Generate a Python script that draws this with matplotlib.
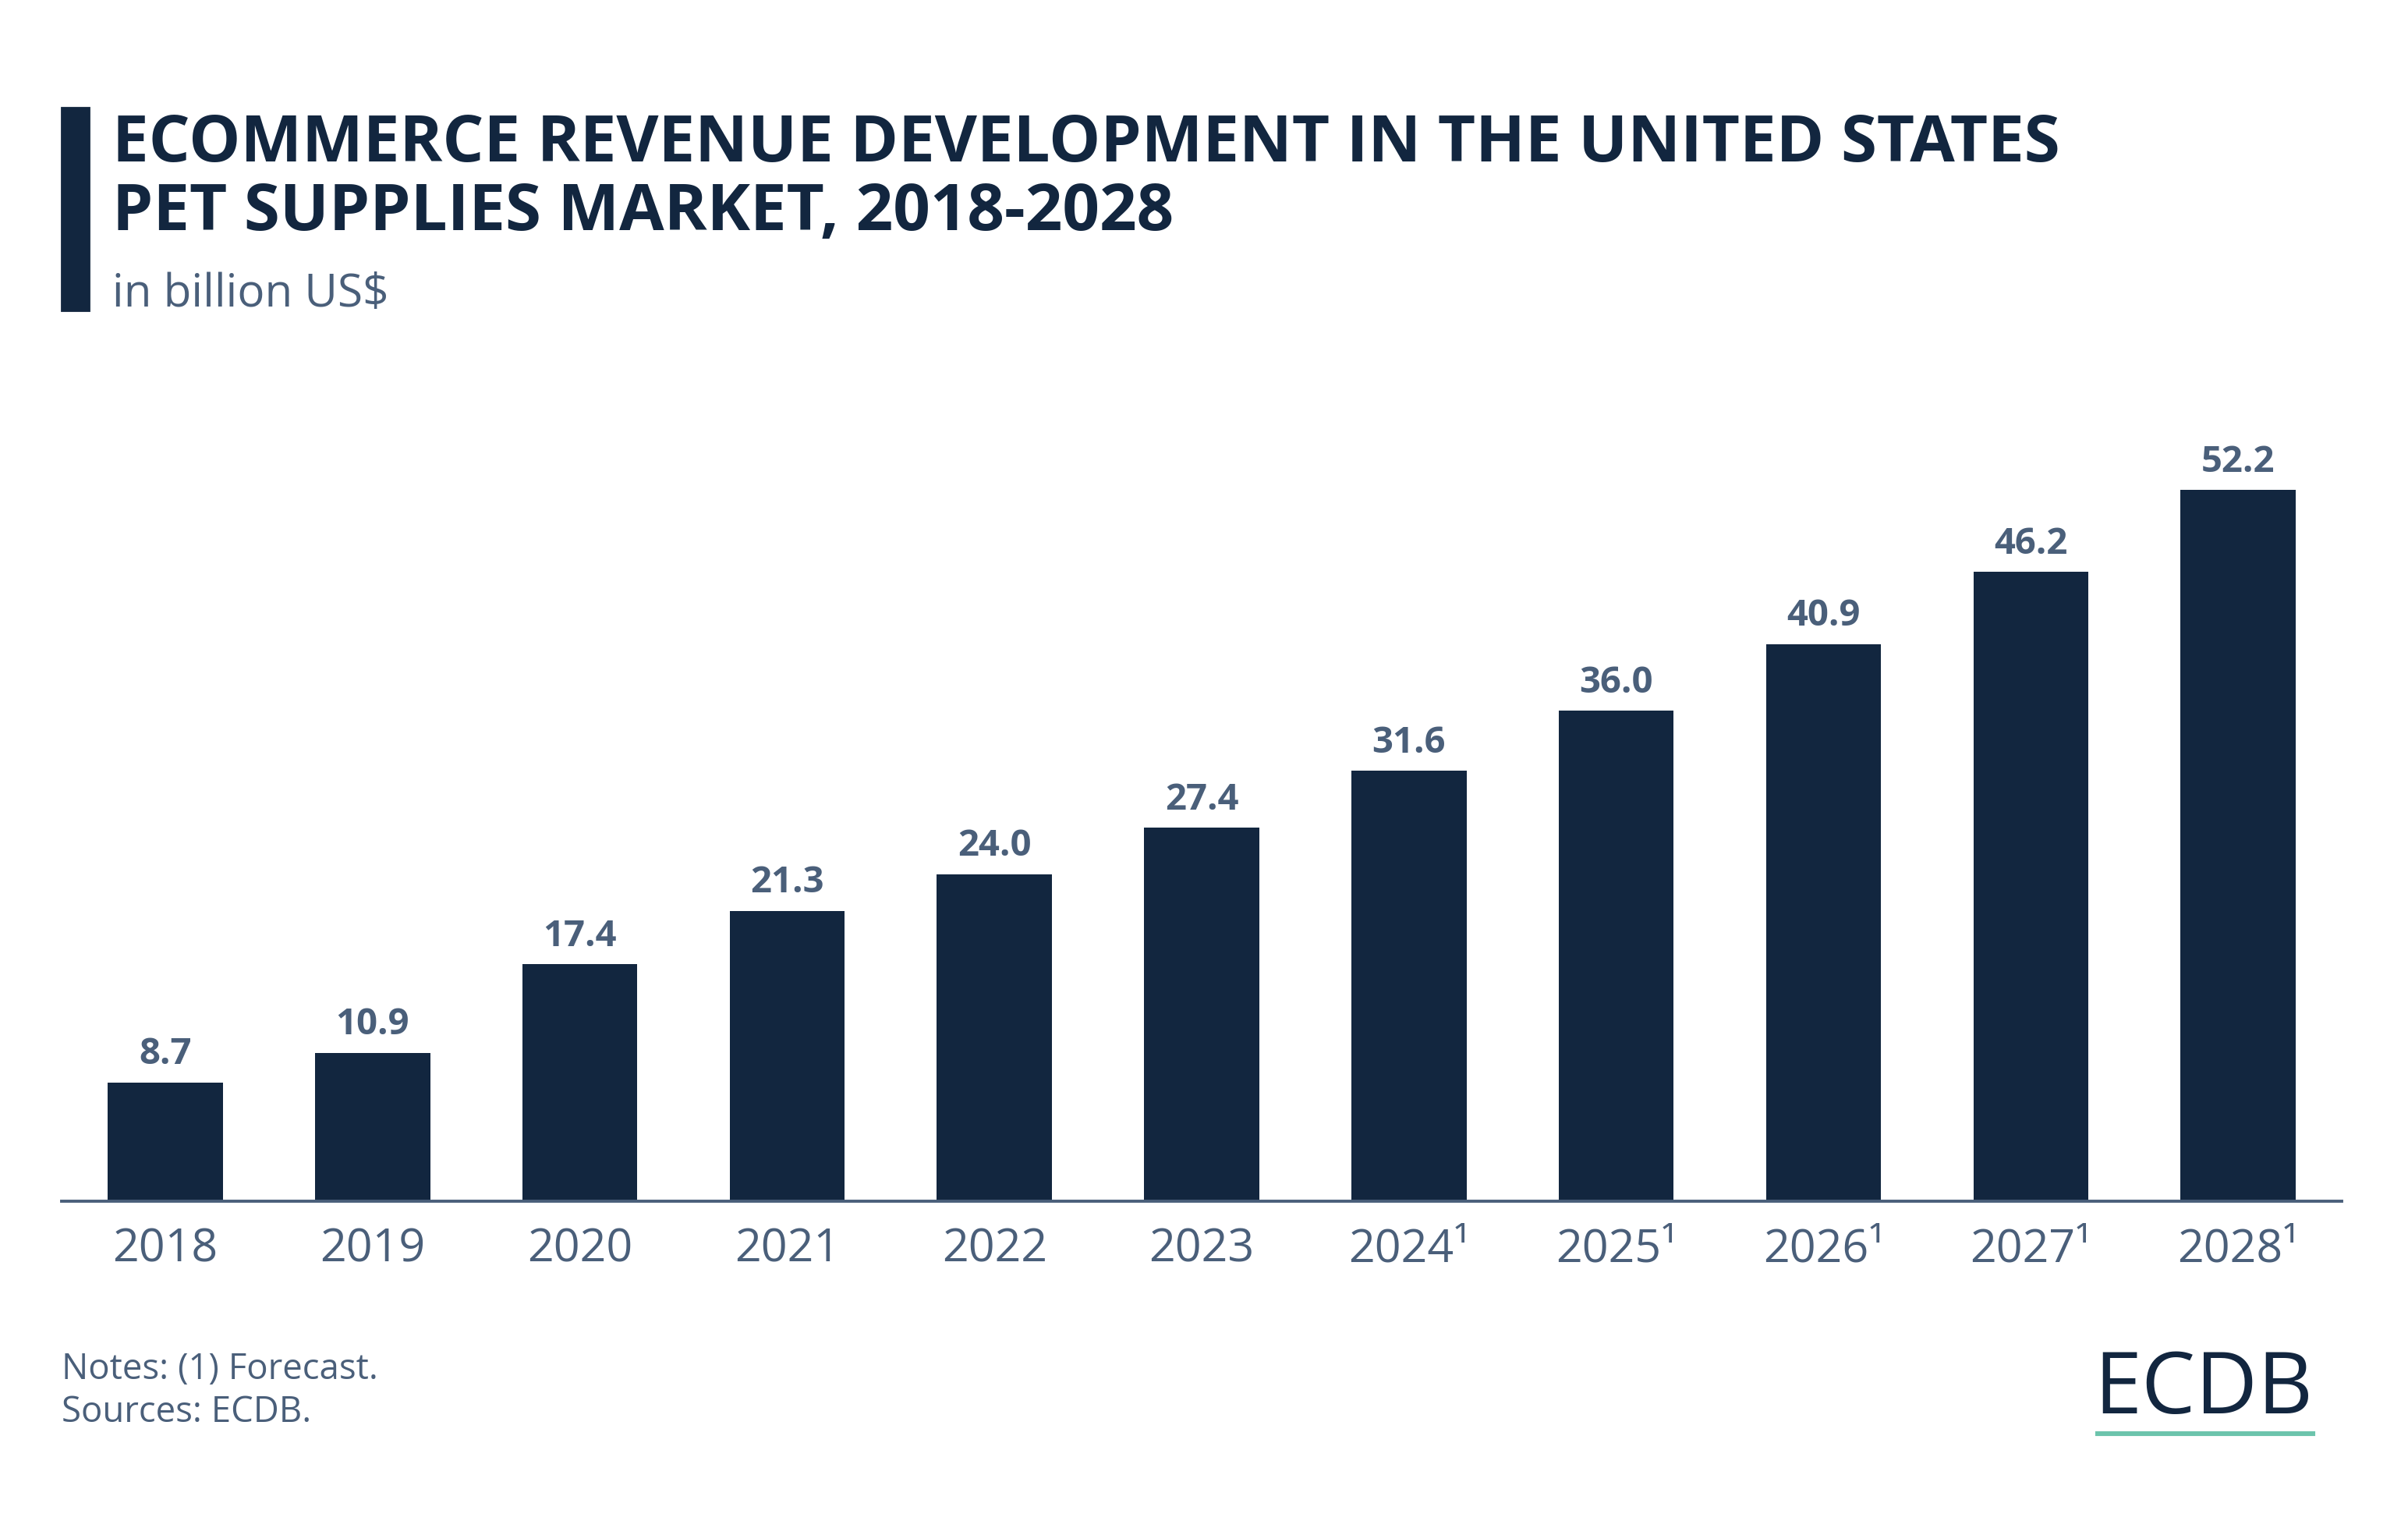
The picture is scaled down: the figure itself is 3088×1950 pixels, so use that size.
import matplotlib.pyplot as plt
from matplotlib.lines import Line2D
from matplotlib.patches import Rectangle

plt.rcParams['font.family'] = ['Open Sans', 'DejaVu Sans']

# data
years = ['2018', '2019', '2020', '2021', '2022', '2023',
         '2024¹', '2025¹', '2026¹', '2027¹', '2028¹']
revenue = [8.7, 10.9, 17.4, 21.3, 24.0, 27.4, 31.6, 36.0, 40.9, 46.2, 52.2]

navy = '#12263f'
slate = '#4a5f7a'
teal = '#6cc4ac'

fig = plt.figure(figsize=(15.44, 9.75), dpi=200)
ax = fig.add_axes([0.0256, 0.2103, 0.9469, 0.5374])

x = range(len(years))
bars = ax.bar(x, revenue, width=0.555, color=navy, zorder=2)
for b, v in zip(bars, revenue):
    ax.annotate(f'{v:.1f}', (b.get_x() + b.get_width() / 2, v),
                xytext=(0, 4.5), textcoords='offset points',
                ha='center', va='bottom', fontsize=17,
                fontweight='bold', color=slate)

ax.set_xlim(-0.5, 10.5)
ax.set_ylim(0, 60)
ax.set_xticks(list(x))
ax.set_xticklabels(years, fontsize=21.3, color=slate)
ax.tick_params(axis='x', length=0, pad=12)
ax.set_yticks([])
for s in ['top', 'right', 'left']:
    ax.spines[s].set_visible(False)
ax.spines['bottom'].set_color(slate)
ax.spines['bottom'].set_linewidth(1.4)

# title block
fig.patches.append(Rectangle((79 / 3088, 1 - 398 / 1950), 35 / 3088, 260 / 1950,
                             transform=fig.transFigure, color=navy))
fig.text(144 / 3088, 1 - 185 / 1950, 'ECOMMERCE REVENUE DEVELOPMENT IN THE UNITED STATES',
         fontsize=30.0, fontweight='bold', color=navy, va='center', ha='left')
fig.text(144 / 3088, 1 - 274 / 1950, 'PET SUPPLIES MARKET, 2018-2028',
         fontsize=30.0, fontweight='bold', color=navy, va='center', ha='left')
fig.text(144 / 3088, 1 - 378 / 1950, 'in billion US$',
         fontsize=21, color=slate, va='center', ha='left')

# footer
fig.text(79 / 3088, 1 - 1756 / 1950, 'Notes: (1) Forecast.',
         fontsize=16.4, color=slate, va='center', ha='left')
fig.text(79 / 3088, 1 - 1811 / 1950, 'Sources: ECDB.',
         fontsize=16.4, color=slate, va='center', ha='left')

# logo
fig.text(2966 / 3088, 1 - 1783 / 1950, 'ECDB', fontsize=39.5, color=navy,
         va='center', ha='right')
fig.lines.append(Line2D([2690 / 3088, 2966 / 3088], [1 - 1838 / 1950, 1 - 1838 / 1950],
                        transform=fig.transFigure, color=teal, linewidth=2.2))

fig.savefig('out.png', dpi=200, facecolor='white')
